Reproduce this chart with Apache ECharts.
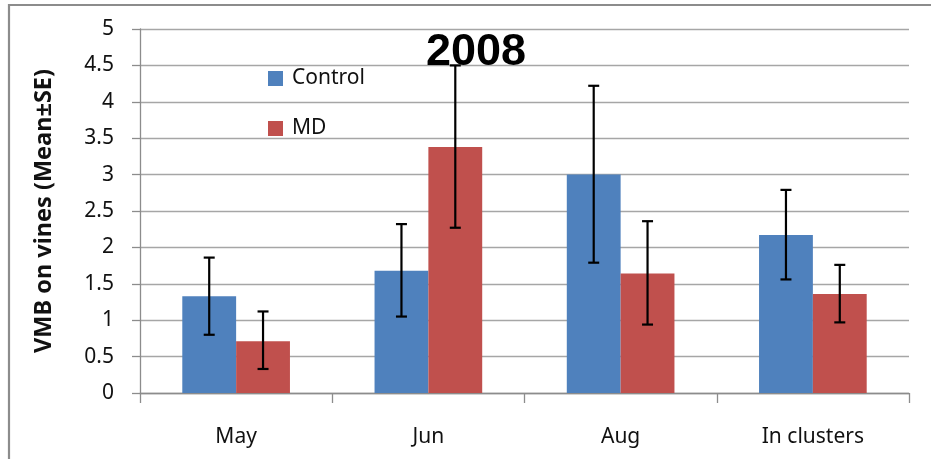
<!DOCTYPE html>
<html>
<head>
<meta charset="utf-8">
<script src="https://cdn.jsdelivr.net/npm/echarts@6/dist/echarts.min.js"></script>
<style>html,body{margin:0;padding:0;background:#fff}#c{width:931px;height:459px}</style>
</head>
<body>
<div id="c"></div>
<script>
const categories = ['May', 'Jun', 'Aug', 'In clusters'];
const controlMean = [1.33, 1.68, 3.00, 2.17];
const controlHigh = [1.86, 2.32, 4.22, 2.79];
const controlLow  = [0.80, 1.05, 1.79, 1.56];
const mdMean = [0.71, 3.38, 1.64, 1.36];
const mdHigh = [1.12, 4.50, 2.36, 1.76];
const mdLow  = [0.33, 2.27, 0.94, 0.97];
const yTicks = [0, 0.5, 1, 1.5, 2, 2.5, 3, 3.5, 4, 4.5, 5];

const BAR_RATIO = 0.28;
function errSeries(name, high, low, side) {
  return {
    type: 'custom', name: name + ' SE', z: 10,
    data: categories.map((c, i) => [i, low[i], high[i]]),
    renderItem: function (params, api) {
      const i = api.value(0);
      const bw = api.size([1, 0])[0] * BAR_RATIO;
      const top = api.coord([i, api.value(2)]);
      const bot = api.coord([i, api.value(1)]);
      const x = top[0] + side * bw / 2;
      const cap = 5.5;
      const st = { stroke: '#000', lineWidth: 2.2 };
      return { type: 'group', children: [
        { type: 'line', shape: { x1: x, y1: top[1], x2: x, y2: bot[1] }, style: st },
        { type: 'line', shape: { x1: x - cap, y1: top[1], x2: x + cap, y2: top[1] }, style: st },
        { type: 'line', shape: { x1: x - cap, y1: bot[1], x2: x + cap, y2: bot[1] }, style: st }
      ]};
    }
  };
}

const chart = echarts.init(document.getElementById('c'), null, { renderer: 'canvas' });
chart.setOption({
  animation: false,
  textStyle: { fontFamily: 'Noto Sans' },
  grid: { left: 140, right: 22, top: 29, bottom: 66, containLabel: false },
  legend: {
    orient: 'vertical', left: 268, top: 68, itemGap: 29, padding: 0,
    itemWidth: 15, itemHeight: 15, icon: 'rect',
    data: ['Control', 'MD'],
    textStyle: { fontFamily: 'Noto Sans', fontSize: 21, color: '#111', padding: [0, 0, 0, 4] }
  },
  xAxis: {
    type: 'category', data: categories,
    axisLine: { lineStyle: { color: '#8c8c8c', width: 1.3 } },
    axisTick: { show: true, length: 10, lineStyle: { color: '#8c8c8c', width: 1.3 } },
    axisLabel: { margin: 34, fontSize: 21, color: '#111', fontFamily: 'Noto Sans' }
  },
  yAxis: {
    type: 'value', min: 0, max: 5, interval: 0.5,
    name: 'VMB on vines (Mean±SE)', nameLocation: 'middle', nameGap: 84, nameRotate: 90,
    nameTextStyle: { fontFamily: 'Noto Sans', fontWeight: 'bold', fontSize: 23.5, color: '#111' },
    axisLine: { show: true, lineStyle: { color: '#8c8c8c', width: 1.3 } },
    axisTick: { show: true, inside: false, length: 8, lineStyle: { color: '#8c8c8c', width: 1.3 } },
    axisLabel: { margin: 26, fontSize: 21, color: '#111', fontFamily: 'Noto Sans',
      formatter: v => String(v) },
    splitLine: { lineStyle: { color: '#a6a6a6', width: 1.3 } }
  },
  series: [
    { name: 'Control', type: 'bar', data: controlMean, barWidth: '28%', barGap: '0%',
      itemStyle: { color: '#4F81BD' } },
    { name: 'MD', type: 'bar', data: mdMean, barWidth: '28%', barGap: '0%',
      itemStyle: { color: '#C0504D' } },
    errSeries('Control', controlHigh, controlLow, -1),
    errSeries('MD', mdHigh, mdLow, 1)
  ],
  graphic: [
    { type: 'rect', z: -10, shape: { x: 9, y: 5, width: 960, height: 500 },
      style: { fill: 'none', stroke: '#8c8c8c', lineWidth: 2.2 } },
    { type: 'text', z: 5, x: 476, y: 53,
      style: { text: '2008', fontFamily: 'Liberation Sans', fontWeight: 'bold', fontSize: 45,
        fill: '#000', textAlign: 'center', textVerticalAlign: 'middle' } }
  ]
});
</script>
</body>
</html>
